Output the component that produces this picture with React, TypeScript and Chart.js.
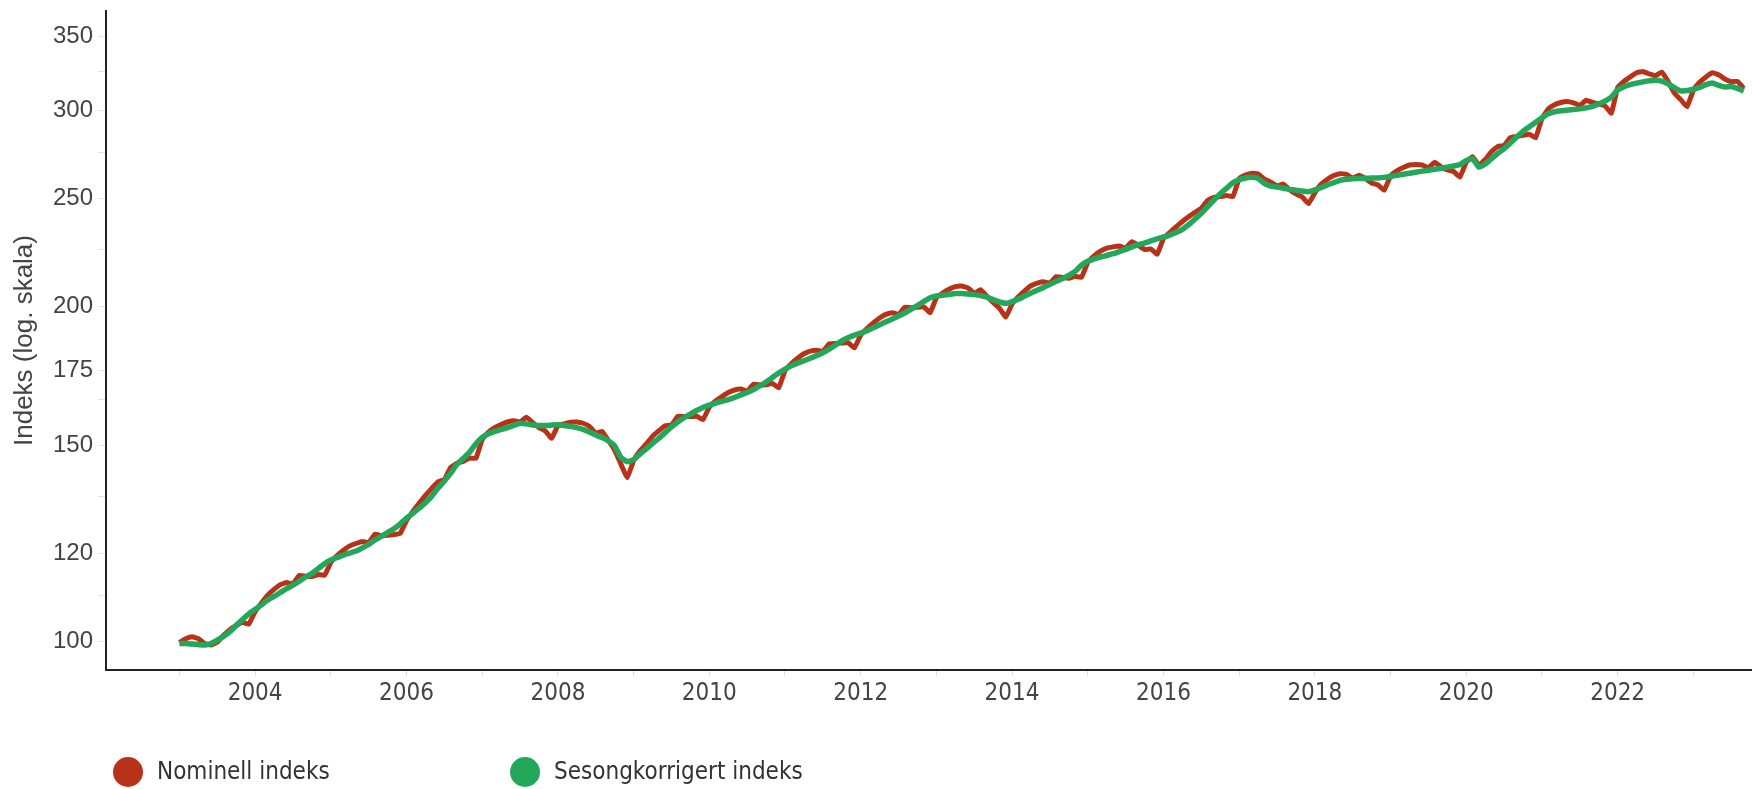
import React, { useEffect, useRef } from 'react';
import { Chart, registerables } from 'chart.js';

Chart.register(...registerables);

// ---- Data (monthly, Jan 2003 = first value) ----
const START_YEAR = 2003;

const seriesNames = ['Nominell indeks', 'Sesongkorrigert indeks'];
const seriesColors = ['#B83219', '#23A85B'];

const nominal = [
  99.7, 100.5, 100.9, 100.5, 99.5, 99.2, 99.8, 101.2, 102.4, 103.3, 104.0, 103.6,
  106.3, 108.2, 110.0, 111.3, 112.4, 112.9, 112.6, 114.6, 114.4, 114.3, 114.8, 114.6,
  117.7, 119.4, 120.7, 121.8, 122.4, 122.9, 122.6, 124.8, 124.4, 124.5, 124.7, 125.0,
  128.4, 130.8, 133.0, 135.2, 137.2, 139.1, 139.7, 143.3, 144.5, 145.1, 146.1, 146.0,
  151.8, 154.2, 155.6, 156.6, 157.4, 157.8, 157.4, 159.0, 157.2, 155.6, 154.5, 152.2,
  156.2, 156.8, 157.3, 157.4, 157.0, 156.0, 153.8, 154.4, 151.5, 148.5, 144.2, 140.3,
  145.3, 148.2, 150.4, 152.8, 154.6, 156.2, 156.4, 159.3, 159.2, 159.2, 159.3, 158.2,
  162.3, 164.4, 165.9, 167.3, 168.2, 168.5, 167.8, 170.2, 170.0, 170.0, 170.5, 169.0,
  175.0, 177.6, 179.6, 181.3, 182.3, 182.6, 182.2, 185.0, 185.2, 185.4, 185.5, 183.5,
  188.4, 191.0, 193.2, 195.2, 196.7, 197.4, 196.6, 199.6, 199.4, 199.6, 199.8, 197.4,
  203.5, 205.6, 207.2, 208.3, 208.6, 207.8, 205.5, 207.0, 204.2, 201.6, 199.2, 195.6,
  201.0, 204.0, 206.5, 208.7, 209.8, 210.4, 209.8, 212.7, 212.3, 212.0, 212.8, 212.4,
  219.0, 222.0, 224.2, 225.6, 226.2, 226.6, 225.6, 228.6, 227.0, 225.0, 225.2, 222.8,
  230.2, 233.0, 235.8, 238.4, 240.8, 243.0, 245.0, 249.0, 250.6, 251.0, 251.6, 251.0,
  260.5, 262.4, 263.4, 263.0, 260.2, 258.6, 256.6, 257.6, 254.6, 252.4, 250.8, 247.4,
  253.0, 257.5, 260.2, 262.2, 263.2, 262.8, 260.8, 262.4, 260.6, 258.2, 257.2, 254.4,
  262.0, 264.8, 266.6, 268.0, 268.2, 268.0, 266.4, 269.5, 267.0, 265.2, 264.4, 261.4,
  269.5, 272.6, 268.0, 271.0, 275.5, 278.5, 279.0, 283.6, 284.2, 285.0, 285.6, 283.6,
  295.0, 301.0, 303.6, 305.0, 305.6, 304.8, 303.2, 306.4, 305.0, 304.0, 302.8, 298.4,
  314.5, 318.6, 321.6, 324.4, 325.2, 323.6, 322.4, 324.8, 318.5, 311.0, 306.8, 302.4,
  312.8, 318.0, 321.6, 324.4, 323.0, 320.2, 318.4, 318.6, 314.0,
];

const seasonallyAdjusted = [
  99.5, 99.5, 99.4, 99.3, 99.2, 99.5, 100.2, 101.0, 102.0, 103.3, 104.6, 105.8,
  106.8, 107.8, 108.9, 109.7, 110.6, 111.5, 112.3, 113.2, 114.2, 115.0, 116.2, 117.4,
  118.3, 118.9, 119.5, 120.0, 120.5, 121.3, 122.2, 123.3, 124.2, 125.2, 126.2, 127.5,
  129.0, 130.3, 131.7, 133.2, 135.0, 137.3, 139.3, 141.6, 144.2, 146.0, 147.9, 150.5,
  152.5, 153.6, 154.4, 155.0, 155.6, 156.3, 157.0, 156.8, 156.4, 156.3, 156.3, 156.4,
  156.5, 156.3, 156.0, 155.6, 155.0, 154.2, 153.2, 152.4, 151.4, 149.8, 146.3, 145.0,
  145.6, 147.3, 148.9, 150.6, 152.2, 154.0, 155.8, 157.4, 158.8, 160.0, 161.2, 162.2,
  163.0, 163.7, 164.3, 164.9, 165.6, 166.5, 167.3, 168.3, 169.6, 171.0, 172.6, 174.2,
  175.6, 176.8, 177.8, 178.7, 179.6, 180.6, 181.7, 183.0, 184.6, 186.2, 187.4, 188.4,
  189.2, 190.2, 191.3, 192.5, 193.7, 194.8, 196.0, 197.3, 198.8, 200.3, 202.0, 203.6,
  204.3, 204.6, 205.0, 205.4, 205.4, 205.2, 204.9, 204.5, 203.8, 202.8, 201.8, 201.3,
  202.0, 203.0, 204.3, 205.6, 206.8, 208.0, 209.3, 210.6, 211.8, 213.2, 215.0, 217.8,
  219.6, 220.6, 221.5, 222.2, 223.0, 224.0, 225.0, 226.2, 227.2, 228.0, 229.0, 230.0,
  230.9, 231.8, 233.0, 234.5, 236.8, 239.6, 242.5, 245.8, 249.2, 252.5, 255.4, 258.3,
  260.0, 260.9, 261.2, 260.6, 258.0, 256.5, 256.0, 255.4, 254.8, 254.3, 253.9, 253.6,
  254.5, 255.8, 257.2, 258.4, 259.6, 260.2, 260.5, 260.6, 260.7, 260.8, 260.9, 261.2,
  261.7, 262.3, 262.9, 263.4, 264.0, 264.6, 265.1, 265.6, 266.2, 266.8, 267.4, 268.2,
  270.5, 271.5, 266.8, 268.5, 271.5, 274.5, 277.2, 280.5, 284.0, 287.3, 290.0, 292.8,
  295.5, 298.0, 299.2, 299.8, 300.2, 300.6, 301.0, 301.6, 302.5, 304.0, 305.8, 308.5,
  313.0, 315.2, 316.5, 317.5, 318.3, 319.0, 319.4, 318.8, 317.0, 314.5, 312.4, 312.6,
  313.5, 314.6, 316.5, 317.6, 316.0, 315.0, 315.2, 314.0, 312.4,
];

const yTickValues = [100, 110, 120, 135, 150, 165, 175, 200, 225, 250, 275, 300, 325, 350];
const yLabelledValues = [100, 120, 150, 175, 200, 250, 300, 350];
const xTickYears = [
  2003, 2004, 2005, 2006, 2007, 2008, 2009, 2010, 2011, 2012, 2013,
  2014, 2015, 2016, 2017, 2018, 2019, 2020, 2021, 2022, 2023,
];
const xLabelledYears = [2004, 2006, 2008, 2010, 2012, 2014, 2016, 2018, 2020, 2022];

const yTitle = 'Indeks (log. skala)';

// ---- Helpers ----
const toPoints = (vals: number[]) =>
  vals.map((v, i) => ({ x: START_YEAR + i / 12, y: v }));

const CONDENSED = "'DejaVu Sans Condensed', 'DejaVu Sans', sans-serif";
const ARIAL = "'Liberation Sans', Arial, sans-serif";

const legendPlugin = {
  id: 'bottomLegend',
  afterDraw(chart: any) {
    const ctx = chart.ctx as CanvasRenderingContext2D;
    const centers = [128, 525];
    const cy = 772;
    ctx.save();
    ctx.font = `24px ${CONDENSED}`;
    ctx.textBaseline = 'middle';
    ctx.textAlign = 'left';
    seriesNames.forEach((name, i) => {
      ctx.beginPath();
      ctx.fillStyle = seriesColors[i];
      ctx.arc(centers[i], cy, 15, 0, Math.PI * 2);
      ctx.fill();
      ctx.fillStyle = '#333333';
      ctx.fillText(name, centers[i] + 29, cy + 1);
    });
    ctx.restore();
  },
};

export default function App() {
  const canvasRef = useRef<HTMLCanvasElement | null>(null);

  useEffect(() => {
    const canvas = canvasRef.current;
    if (!canvas) return;
    const chart = new Chart(canvas, {
      type: 'line',
      data: {
        datasets: [
          {
            label: seriesNames[0],
            data: toPoints(nominal),
            borderColor: seriesColors[0],
            backgroundColor: seriesColors[0],
            borderWidth: 5,
            pointRadius: 0,
            tension: 0.1,
            borderJoinStyle: 'round',
            order: 2,
          },
          {
            label: seriesNames[1],
            data: toPoints(seasonallyAdjusted),
            borderColor: seriesColors[1],
            backgroundColor: seriesColors[1],
            borderWidth: 5.5,
            pointRadius: 0,
            tension: 0.15,
            borderJoinStyle: 'round',
            order: 1,
          },
        ],
      },
      options: {
        animation: false,
        responsive: false,
        devicePixelRatio: 1,
        parsing: false as any,
        layout: { padding: { top: 11, left: 0, right: 0, bottom: 0 } },
        plugins: {
          legend: { display: false },
          tooltip: { enabled: false },
          title: { display: false },
        },
        scales: {
          x: {
            type: 'linear',
            min: 2002.03,
            max: 2023.775,
            afterBuildTicks: (scale: any) => {
              scale.ticks = xTickYears.map((v) => ({ value: v }));
            },
            afterFit: (scale: any) => {
              scale.height = 119;
              scale.paddingLeft = 0;
              scale.paddingRight = 0;
            },
            ticks: {
              autoSkip: false,
              maxRotation: 0,
              minRotation: 0,
              padding: 3,
              color: '#444444',
              font: { family: CONDENSED, size: 24 },
              callback: (v: any) => (xLabelledYears.includes(Number(v)) ? String(v) : ''),
            },
            grid: {
              display: true,
              drawOnChartArea: false,
              drawTicks: true,
              tickLength: 6,
              color: '#dddddd',
              tickColor: '#dddddd',
            },
            border: { display: true, color: '#222222', width: 2 },
          },
          y: {
            type: 'logarithmic',
            min: 94.2,
            max: 368.6,
            afterBuildTicks: (scale: any) => {
              scale.ticks = yTickValues.map((v) => ({ value: v }));
            },
            afterFit: (scale: any) => {
              scale.width = 106;
              scale.paddingTop = 0;
              scale.paddingBottom = 0;
            },
            ticks: {
              autoSkip: false,
              padding: 5,
              color: '#444444',
              font: { family: ARIAL, size: 24 },
              callback: (v: any) => (yLabelledValues.includes(Number(v)) ? String(v) : ''),
            },
            grid: {
              display: true,
              drawOnChartArea: false,
              drawTicks: true,
              tickLength: 8,
              color: '#e3e3e3',
              tickColor: '#e3e3e3',
            },
            border: { display: true, color: '#222222', width: 2 },
            title: {
              display: true,
              text: yTitle,
              color: '#444444',
              font: { family: ARIAL, size: 26 },
              padding: { top: 9, bottom: 0 },
            },
          },
        },
      },
      plugins: [legendPlugin],
    } as any);
    return () => chart.destroy();
  }, []);

  return (
    <div style={{ position: 'absolute', left: 0, top: 0, width: 1752, height: 789, background: '#ffffff' }}>
      <canvas ref={canvasRef} width={1752} height={789} style={{ width: 1752, height: 789, display: 'block' }} />
    </div>
  );
}
